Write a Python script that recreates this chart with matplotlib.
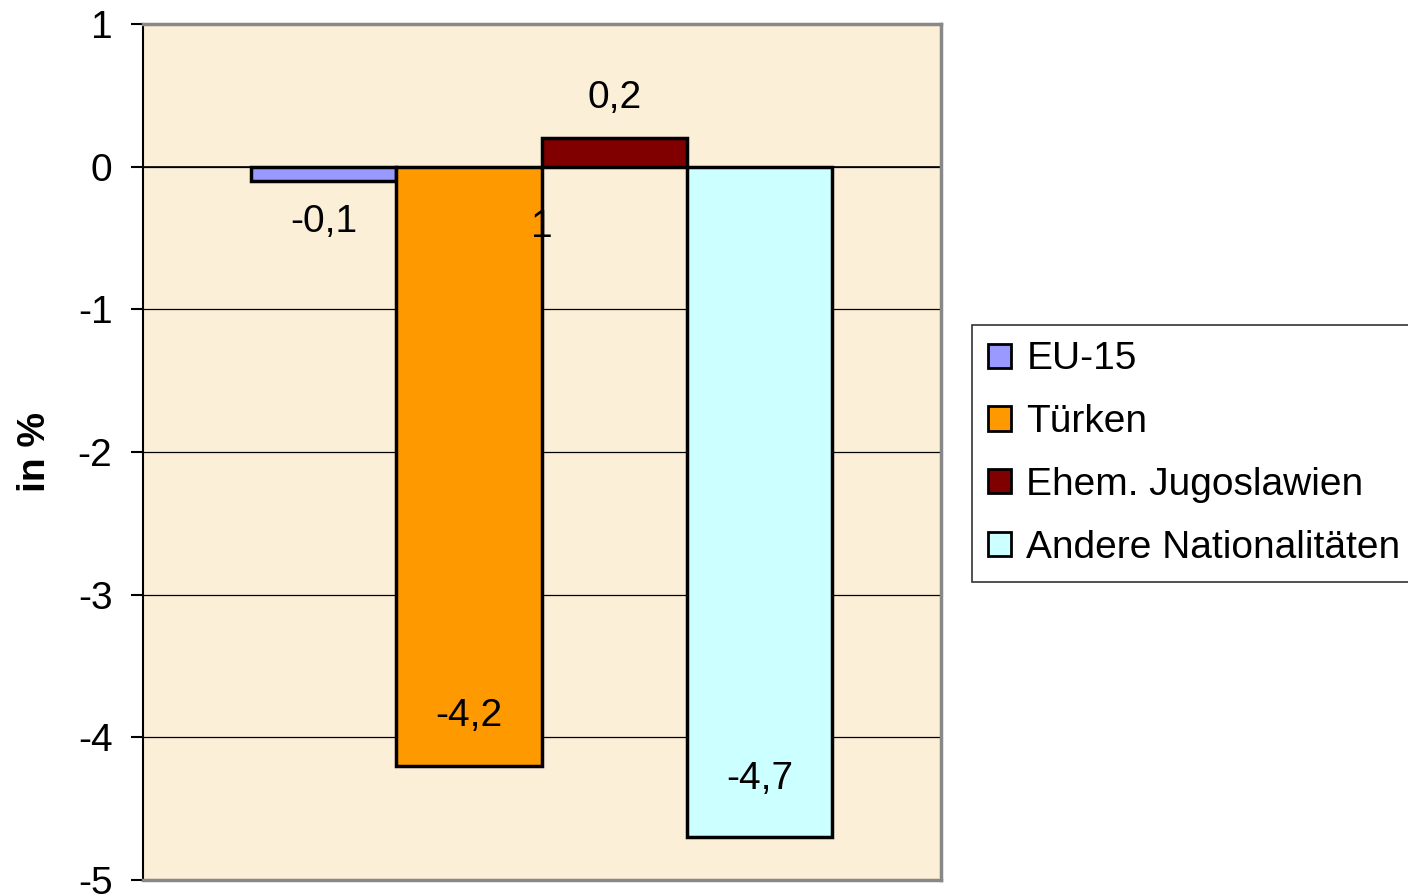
import matplotlib.pyplot as plt
from matplotlib.patches import Patch

plt.rcParams['font.family'] = ['Liberation Sans', 'DejaVu Sans']

categories = ["EU-15", "Türken", "Ehem. Jugoslawien", "Andere Nationalitäten"]
values = [-0.1, -4.2, 0.2, -4.7]
value_labels = ["-0,1", "-4,2", "0,2", "-4,7"]
# where the data labels sit (in data units)
label_y = [-0.39, -3.85, 0.48, -4.29]
colors = ["#9999FF", "#FF9900", "#800000", "#CCFFFF"]
yticks = [1, 0, -1, -2, -3, -4, -5]

fs = 28

fig = plt.figure(figsize=(14.08, 8.94), dpi=100)
ax = fig.add_axes([143 / 1408, 1 - 880 / 894, 798 / 1408, 856 / 894])
ax.set_facecolor("#FBEFD7")

x = range(len(values))
ax.bar(x, values, width=1.0, color=colors, edgecolor="black", linewidth=2.5, zorder=3)

for xi, lab, ly in zip(x, value_labels, label_y):
    ax.text(xi, ly, lab, ha="center", va="center", fontsize=fs, zorder=4)

# category label sits under the zero line
ax.text(1.5, -0.42, "1", ha="center", va="center", fontsize=fs, zorder=4)

ax.set_xlim(-1.2435, 4.25)
ax.set_ylim(-5, 1)
ax.set_yticks(yticks)
ax.set_yticklabels([str(t) for t in yticks], fontsize=fs)
ax.set_xticks([])
ax.tick_params(axis="y", direction="out", length=9, width=1.5, pad=13)
ax.grid(axis="y", color="black", linewidth=0.9, zorder=1)
ax.axhline(0, color="black", linewidth=1.2, zorder=2)

for s in ["top", "right", "bottom"]:
    ax.spines[s].set_color("#888888")
    ax.spines[s].set_linewidth(2.5)
ax.spines["left"].set_color("black")
ax.spines["left"].set_linewidth(1.5)

ax.set_ylabel("in %", fontsize=fs, fontweight="bold", labelpad=18)

handles = [Patch(facecolor=c, edgecolor="black", linewidth=2) for c in colors]
leg = fig.legend(handles, categories, loc="upper left",
                 bbox_to_anchor=(972 / 1408, 1 - 325 / 894),
                 fontsize=fs, frameon=True, fancybox=False,
                 handlelength=0.58, handleheight=0.58, handletextpad=0.4,
                 labelspacing=0.69, borderpad=0.42, borderaxespad=0)
leg.get_frame().set_edgecolor("black")
leg.get_frame().set_linewidth(1.2)

fig.savefig("out.png", dpi=100)
